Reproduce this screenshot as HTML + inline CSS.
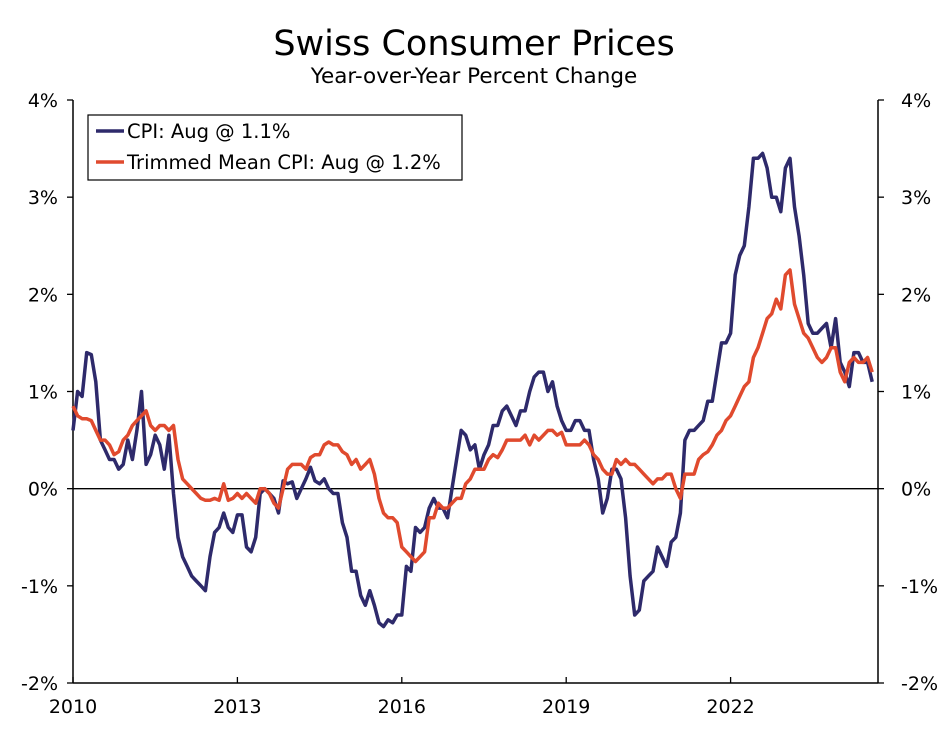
<!DOCTYPE html>
<html><head><meta charset="utf-8"><style>
body{margin:0;background:#fff;}
svg text{font-family:"DejaVu Sans","Liberation Sans",sans-serif;fill:#000;}
</style></head><body>
<svg id="chart" width="949" height="727" xmlns="http://www.w3.org/2000/svg">
<text x="474" y="55" font-size="35" text-anchor="middle">Swiss Consumer Prices</text>
<text x="474" y="83" font-size="21.5" text-anchor="middle">Year-over-Year Percent Change</text>
<g id="axes"></g>
<g id="series"></g>
<g>
<rect x="88" y="115" width="374" height="65" fill="#fff" stroke="#000" stroke-width="1.2"/>
<line x1="96" y1="131" x2="124" y2="131" stroke="#2e2a6b" stroke-width="3.5"/>
<text x="127" y="138" font-size="19.5">CPI: Aug @ 1.1%</text>
<line x1="96" y1="162" x2="124" y2="162" stroke="#e04a2e" stroke-width="3.5"/>
<text x="127" y="169" font-size="19.5">Trimmed Mean CPI: Aug @ 1.2%</text>
</g>
</svg>
<script>
const yTicks=[4,3,2,1,0,-1,-2];
const yTickLabels=["4%","3%","2%","1%","0%","-1%","-2%"];
const xTicks=[2010,2013,2016,2019,2022];
const startYear=2010;
const cpi=[0.6,1.0,0.95,1.4,1.38,1.1,0.5,0.4,0.3,0.3,0.2,0.25,
0.5,0.3,0.6,1.0,0.25,0.35,0.55,0.45,0.2,0.55,-0.05,-0.5,
-0.7,-0.8,-0.9,-0.95,-1.0,-1.05,-0.7,-0.45,-0.4,-0.25,-0.4,-0.45,
-0.27,-0.27,-0.6,-0.65,-0.5,-0.05,0.0,-0.05,-0.1,-0.25,0.08,0.05,
0.07,-0.1,0.0,0.1,0.22,0.08,0.05,0.1,0.0,-0.05,-0.05,-0.35,
-0.5,-0.85,-0.85,-1.1,-1.2,-1.05,-1.2,-1.38,-1.42,-1.35,-1.38,-1.3,
-1.3,-0.8,-0.85,-0.4,-0.45,-0.4,-0.2,-0.1,-0.2,-0.2,-0.3,0.0,
0.3,0.6,0.55,0.4,0.45,0.2,0.35,0.45,0.65,0.65,0.8,0.85,
0.75,0.65,0.8,0.8,1.0,1.15,1.2,1.2,1.0,1.1,0.85,0.7,
0.6,0.6,0.7,0.7,0.6,0.6,0.3,0.1,-0.25,-0.1,0.2,0.2,
0.1,-0.3,-0.9,-1.3,-1.25,-0.95,-0.9,-0.85,-0.6,-0.7,-0.8,-0.55,
-0.5,-0.25,0.5,0.6,0.6,0.65,0.7,0.9,0.9,1.2,1.5,1.5,
1.6,2.2,2.4,2.5,2.9,3.4,3.4,3.45,3.3,3.0,3.0,2.85,
3.3,3.4,2.9,2.6,2.2,1.7,1.6,1.6,1.65,1.7,1.45,1.75,
1.3,1.2,1.05,1.4,1.4,1.3,1.3,1.1];
const trimmed=[0.85,0.75,0.72,0.72,0.7,0.6,0.5,0.5,0.45,0.35,0.38,0.5,
0.55,0.65,0.7,0.75,0.8,0.65,0.6,0.65,0.65,0.6,0.65,0.3,
0.1,0.05,0.0,-0.05,-0.1,-0.12,-0.12,-0.1,-0.12,0.05,-0.12,-0.1,
-0.05,-0.1,-0.05,-0.1,-0.15,0.0,0.0,-0.05,-0.15,-0.2,0.0,0.2,
0.25,0.25,0.25,0.2,0.32,0.35,0.35,0.45,0.48,0.45,0.45,0.38,
0.35,0.25,0.3,0.2,0.25,0.3,0.15,-0.1,-0.25,-0.3,-0.3,-0.35,
-0.6,-0.65,-0.7,-0.75,-0.7,-0.65,-0.3,-0.3,-0.15,-0.2,-0.2,-0.15,
-0.1,-0.1,0.05,0.1,0.2,0.2,0.2,0.3,0.35,0.32,0.4,0.5,
0.5,0.5,0.5,0.55,0.45,0.55,0.5,0.55,0.6,0.6,0.55,0.58,
0.45,0.45,0.45,0.45,0.5,0.45,0.35,0.3,0.2,0.15,0.15,0.3,
0.25,0.3,0.25,0.25,0.2,0.15,0.1,0.05,0.1,0.1,0.15,0.15,
0.0,-0.1,0.15,0.15,0.15,0.3,0.35,0.38,0.45,0.55,0.6,0.7,
0.75,0.85,0.95,1.05,1.1,1.35,1.45,1.6,1.75,1.8,1.95,1.85,
2.2,2.25,1.9,1.75,1.6,1.55,1.45,1.35,1.3,1.35,1.45,1.45,
1.2,1.1,1.3,1.35,1.3,1.3,1.35,1.2];

const X0=73,X1=878,Y0=100,Y1=683;
const pxPerYear=54.8;
function xs(yearFrac){return X0+(yearFrac-startYear)*pxPerYear;}
function ys(v){return Y1-(v+2)/6*(Y1-Y0);}
const NS="http://www.w3.org/2000/svg";
function mk(tag,attrs,parent){const e=document.createElementNS(NS,tag);for(const k in attrs)e.setAttribute(k,attrs[k]);parent.appendChild(e);return e;}
const axes=document.getElementById('axes');
let e=mk('line',{x1:X0,y1:Y0,x2:X0,y2:Y1,stroke:'#000','stroke-width':1.5},axes);


e=mk('line',{x1:X1,y1:Y0,x2:X1,y2:Y1,stroke:'#000','stroke-width':1.5},axes);


e=mk('line',{x1:X0,y1:Y1,x2:X1,y2:Y1,stroke:'#000','stroke-width':1.5},axes);


e=mk('line',{x1:X0,y1:ys(0),x2:X1,y2:ys(0),stroke:'#000','stroke-width':1.3},axes);


yTicks.forEach((t,i)=>{
 const y=ys(t);
 let l=mk('line',{x1:X0-6,y1:y,x2:X0,y2:y,stroke:'#000','stroke-width':1.3},axes);
 
 
 l=mk('line',{x1:X1,y1:y,x2:X1+6,y2:y,stroke:'#000','stroke-width':1.3},axes);
 
 
 let tx=mk('text',{x:X0-15,y:y+7,'font-size':19,'text-anchor':'end'},axes);tx.textContent=yTickLabels[i];
 
 
 tx=mk('text',{x:X1+23,y:y+7,'font-size':19,'text-anchor':'start'},axes);tx.textContent=yTickLabels[i];
 
 
});
xTicks.forEach(t=>{
 const x=xs(t);
 let l=mk('line',{x1:x,y1:Y1-6,x2:x,y2:Y1,stroke:'#000','stroke-width':1.3},axes);
 
 
 let tx=mk('text',{x:x,y:Y1+30,'font-size':19,'text-anchor':'middle'},axes);tx.textContent=String(t);
 
 
});
const ser=document.getElementById('series');
function path(vals,color,name){
 const d=vals.map((v,i)=>(i?'L':'M')+xs(startYear+i/12).toFixed(1)+','+ys(v).toFixed(1)).join('');
 const p=mk('path',{d:d,fill:'none',stroke:color,'stroke-width':3.5,'stroke-linejoin':'round'},ser);
 
 
}
path(cpi,'#2e2a6b','cpi-line');
path(trimmed,'#e04a2e','trimmed-mean-line');
</script>
</body></html>
